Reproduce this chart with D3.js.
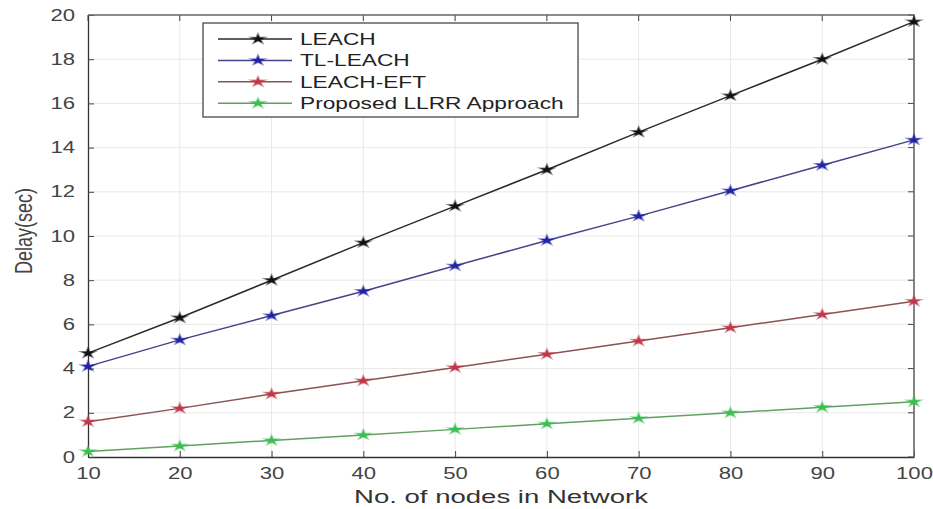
<!DOCTYPE html>
<html lang="en">
<head>
  <meta charset="UTF-8">
  <title>Delay vs nodes</title>
  <script src="https://d3js.org/d3.v7.min.js"></script>
  <style>
    body { margin: 0; background: #fff; }
    svg { font-family: "Liberation Sans", Arial, sans-serif; }
    .grid line { stroke: #e8e8e8; }
  </style>
</head>
<body>
  <svg id="chart"></svg>
  <script>
    const nodes = [10, 20, 30, 40, 50, 60, 70, 80, 90, 100];
    const leach = [4.7, 6.3, 8.0, 9.7, 11.35, 13.0, 14.7, 16.35, 18.0, 19.7];
    const tlLeach = [4.1, 5.3, 6.4, 7.5, 8.65, 9.8, 10.9, 12.05, 13.2, 14.35];
    const leachEft = [1.6, 2.2, 2.85, 3.45, 4.05, 4.65, 5.25, 5.85, 6.45, 7.05];
    const proposed = [0.25, 0.5, 0.75, 1.0, 1.25, 1.5, 1.75, 2.0, 2.25, 2.5];
    const yTicks = [0, 2, 4, 6, 8, 10, 12, 14, 16, 18, 20];

    const series = [
      { name: "LEACH", values: leach, line: "#2a2a2a", mark: "#111" },
      { name: "TL-LEACH", values: tlLeach, line: "#44448a", mark: "#2222a8" },
      { name: "LEACH-EFT", values: leachEft, line: "#8a5252", mark: "#c03848" },
      { name: "Proposed LLRR Approach", values: proposed, line: "#62a062", mark: "#38c050" }
    ];

    const width = 933, height = 509;
    const margin = { top: 15, right: 19, bottom: 52, left: 88 };
    const sx = 1.38; // the picture is stretched sideways
    const svg = d3.select("#chart").attr("width", width).attr("height", height);

    const x = d3.scaleLinear().domain([10, 100]).range([margin.left, width - margin.right]);
    const y = d3.scaleLinear().domain([0, 20]).range([height - margin.bottom, margin.top]);

    // grid
    const grid = svg.append("g").attr("class", "grid");
    grid.selectAll("line.v").data(nodes.slice(1, -1)).enter().append("line").attr("class", "v")
      .attr("x1", d => x(d)).attr("x2", d => x(d))
      .attr("y1", y(0)).attr("y2", y(20));
    grid.selectAll("line.h").data(yTicks.slice(1, -1)).enter().append("line").attr("class", "h")
      .attr("x1", x(10)).attr("x2", x(100))
      .attr("y1", d => y(d)).attr("y2", d => y(d));

    // axes, ticks inward
    const xAxis = svg.append("g")
      .attr("transform", `translate(0,${y(0)})`)
      .call(d3.axisBottom(x).tickValues(nodes).tickSizeInner(-6).tickSizeOuter(0).tickPadding(11));
    const yAxis = svg.append("g")
      .attr("transform", `translate(${x(10)},0)`)
      .call(d3.axisLeft(y).tickValues(yTicks).tickSizeInner(-6).tickSizeOuter(0).tickPadding(13));
    [xAxis, yAxis].forEach(a => {
      a.select(".domain").attr("stroke", "#333").attr("stroke-width", 1.3);
      a.selectAll(".tick line").attr("stroke", "#444");
      a.selectAll(".tick text").attr("fill", "#444").attr("font-size", 16);
    });
    // stretch the tick labels sideways around their anchor
    xAxis.selectAll(".tick text").attr("dy", "0.71em")
      .attr("transform", `scale(${sx},1)`);
    yAxis.selectAll(".tick text")
      .attr("x", 0)
      .attr("transform", `translate(-13,0) scale(${sx},1)`);

    // top/right tick marks
    svg.append("g").selectAll("line").data(nodes).enter().append("line")
      .attr("x1", d => x(d)).attr("x2", d => x(d))
      .attr("y1", y(20)).attr("y2", y(20) + 6).attr("stroke", "#444");
    svg.append("g").selectAll("line").data(yTicks).enter().append("line")
      .attr("x1", x(100)).attr("x2", x(100) - 6)
      .attr("y1", d => y(d)).attr("y2", d => y(d)).attr("stroke", "#444");

    // box
    svg.append("path")
      .attr("d", `M${x(10)},${y(20)}H${x(100)}V${y(0)}`)
      .attr("fill", "none").attr("stroke", "#666").attr("stroke-width", 1.6);

    // series
    const line = d3.line().x((d, i) => x(nodes[i])).y(d => y(d));
    const star = d3.symbol().type(d3.symbolStar).size(24);

    series.forEach(s => {
      svg.append("path")
        .datum(s.values)
        .attr("fill", "none")
        .attr("stroke", s.line)
        .attr("stroke-width", 1.5)
        .attr("d", line);
      svg.append("g").selectAll("path").data(s.values).enter().append("path")
        .attr("d", star)
        .attr("transform", (d, i) => `translate(${x(nodes[i])},${y(d)}) scale(1.5,1)`)
        .attr("fill", s.mark)
        .attr("stroke", s.mark)
        .attr("stroke-opacity", 0.5)
        .attr("stroke-width", 1.5);
    });

    // legend
    const lg = svg.append("g").attr("transform", "translate(203,23)");
    lg.append("rect").attr("width", 375).attr("height", 94)
      .attr("fill", "#fff").attr("stroke", "#555").attr("stroke-width", 1.4);
    series.forEach((s, i) => {
      const yy = 16 + i * 21.4;
      lg.append("line").attr("x1", 15).attr("x2", 89).attr("y1", yy).attr("y2", yy)
        .attr("stroke", s.line).attr("stroke-width", 1.5);
      lg.append("path").attr("d", star).attr("transform", `translate(55,${yy}) scale(1.5,1)`)
        .attr("fill", s.mark).attr("stroke", s.mark).attr("stroke-opacity", 0.5).attr("stroke-width", 1.5);
      lg.append("text")
        .attr("transform", `translate(97,${yy + 6}) scale(1.42,1)`)
        .attr("font-size", 16).attr("fill", "#222").text(s.name);
    });

    // axis labels
    svg.append("text")
      .attr("transform", `translate(${x(55)},503) scale(1.45,1)`)
      .attr("text-anchor", "middle").attr("font-size", 19).attr("fill", "#333")
      .text("No. of nodes in Network");
    svg.append("text")
      .attr("transform", `translate(32,231) scale(1.3,1) rotate(-90)`)
      .attr("text-anchor", "middle").attr("font-size", 18).attr("fill", "#444")
      .text("Delay(sec)");
  </script>
</body>
</html>
